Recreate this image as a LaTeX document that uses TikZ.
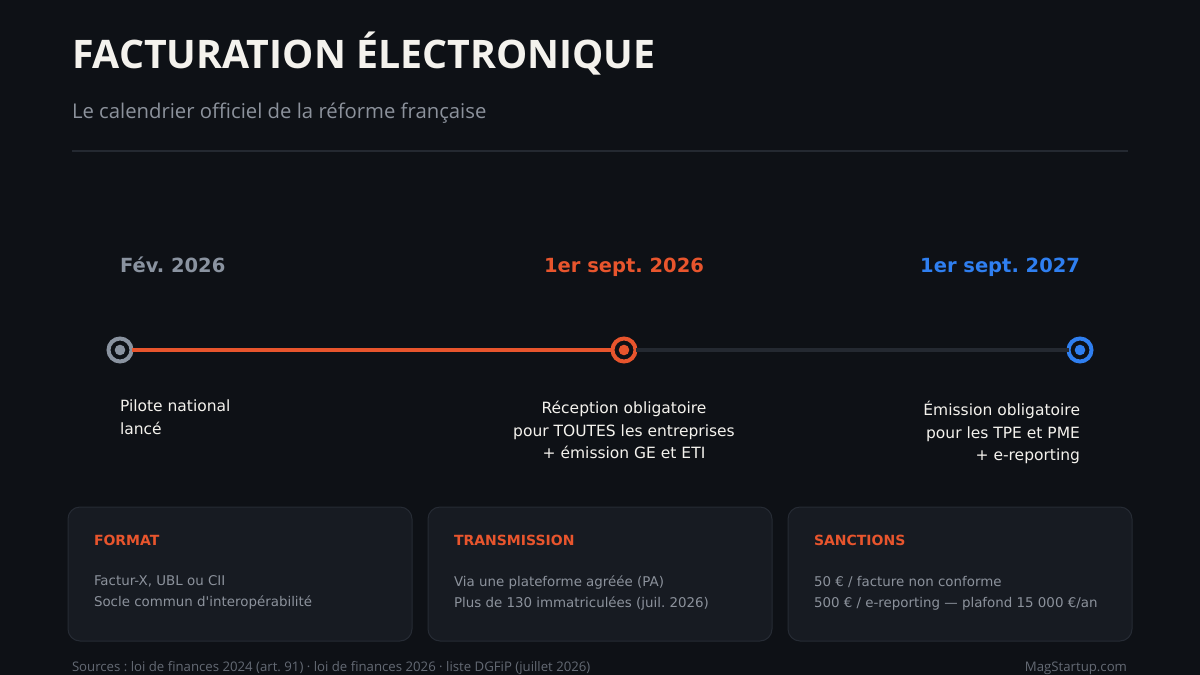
\documentclass[tikz,border=0pt]{standalone}
\usepackage{fontspec}
\setmainfont{DejaVu Sans}
\newfontfamily\opensans{Open Sans}
\usetikzlibrary{positioning,calc}
\definecolor{bgdark}{RGB}{14,17,22}
\definecolor{cardbg}{RGB}{23,27,34}
\definecolor{cardline}{RGB}{38,43,52}
\definecolor{rulegray}{RGB}{36,41,49}
\definecolor{orangeacc}{RGB}{232,85,45}
\definecolor{blueacc}{RGB}{47,127,240}
\definecolor{grayacc}{RGB}{138,147,160}
\definecolor{softwhite}{RGB}{244,242,237}
\definecolor{bodygray}{RGB}{140,146,156}
\definecolor{footgray}{RGB}{100,106,116}
\frenchspacing

\begin{document}
\begin{tikzpicture}
  [x=1pt,y=-1pt,
   every node/.style={inner sep=0pt, outer sep=0pt},
   date/.style={font=\fontsize{19.5}{22}\selectfont\bfseries},
   desc/.style={font=\fontsize{15.5}{22.5}\selectfont, text=softwhite},
   card/.style={draw=cardline, fill=cardbg, line width=1pt, rounded corners=12pt},
   cardtitle/.style={anchor=west, font=\fontsize{14}{16}\selectfont\bfseries, text=orangeacc},
   cardtext/.style={anchor=north west, align=left, font=\fontsize{13.4}{21}\selectfont, text=bodygray},
   ring/.style={circle, line width=4pt, fill=bgdark, minimum size=23pt}]
  % background and frame
  \fill [bgdark] (0,0) rectangle (1200,675);
  \useasboundingbox (0,0) rectangle (1200,675);

  % header
  \node [anchor=base west, text=softwhite, font=\opensans\fontsize{39.3}{44}\selectfont\bfseries] (title) at (72,68) {FACTURATION ÉLECTRONIQUE};
  \node [anchor=base west, text=bodygray, font=\opensans\fontsize{20.3}{22}\selectfont] (subtitle) at (72,118) {Le calendrier officiel de la réforme française};
  \coordinate (ruleL) at (72,151);
  \coordinate (ruleR) at (1128,151);
  \draw [rulegray, line width=1.5pt] (ruleL) -- (ruleR);

  % timeline
  \node [ring, draw=grayacc] (A) at (120,350) {};
  \node [ring, draw=orangeacc] (B) at (624,350) {};
  \node [ring, draw=blueacc] (C) at (1080,350) {};
  \path [line width=4pt]
  (A) edge [orangeacc] (B)
  (B) edge [rulegray] (C);
  \fill [grayacc] (A) circle (5.3pt);
  \fill [orangeacc] (B) circle (5.3pt);
  \fill [blueacc] (C) circle (5.3pt);

  % dates
  \node [date, anchor=base west, text=grayacc] (dA) at (120,272) {Fév. 2026};
  \node [date, anchor=base, text=orangeacc] (dB) at (624,272) {1er sept. 2026};
  \node [date, anchor=base east, text=blueacc] (dC) at (1080,272) {1er sept. 2027};

  % descriptions
  \node [desc, anchor=north west, align=left] (tA) at (120,400) {Pilote national\\lancé};
  \node [desc, anchor=north, align=center] (tB) at (624,401.5) {Réception obligatoire\\pour TOUTES les entreprises\\+ émission GE et ETI};
  \node [desc, anchor=north east, align=right] (tC) at (1080,401.5) {Émission obligatoire\\pour les TPE et PME\\+ e-reporting};

  % cards
  \draw [card] (68,507) rectangle (412,641);
  \draw [card] (428,507) rectangle (772,641);
  \draw [card] (788,507) rectangle (1132,641);
  \node [cardtitle] (k1) at (94,540) {FORMAT};
  \node [cardtitle] (k2) at (454,540) {TRANSMISSION};
  \node [cardtitle] (k3) at (814,540) {SANCTIONS};
  \node [cardtext] (b1) at (94,576) {Factur-X, UBL ou CII\\Socle commun d\textquotesingle interopérabilité};
  \node [cardtext] (b2) at (454,576) {Via une plateforme agréée (PA)\\Plus de 130 immatriculées (juil. 2026)};
  \node [cardtext] (b3) at (814,576) {50 € / facture non conforme\\500 € / e-reporting — plafond 15 000 €/an};

  % footer
  \node [anchor=base west, text=footgray, font=\opensans\fontsize{13.2}{15}\selectfont] (src) at (72,671) {Sources : loi de finances 2024 (art. 91) · loi de finances 2026 · liste DGFiP (juillet 2026)};
  \node [anchor=base east, text=footgray, font=\opensans\fontsize{13.2}{15}\selectfont] (site) at (1127,671) {MagStartup.com};
\end{tikzpicture}
\end{document}
